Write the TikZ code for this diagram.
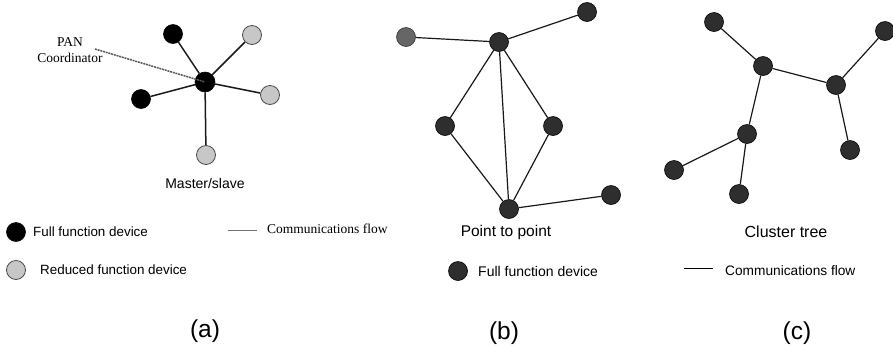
\documentclass[tikz,border=0pt]{standalone}
\usepackage{fontspec}
\setmainfont{Liberation Sans}
\newfontfamily\serifface{Liberation Serif}
\begin{document}
\begin{tikzpicture}[x=1pt,y=-1pt,
  ffd/.style={circle,fill=black,draw=black,line width=0.6,minimum size=19,inner sep=0},
  rfd/.style={circle,fill=black!22,draw=black!70,line width=0.8,minimum size=19,inner sep=0},
  pfd/.style={circle,fill=black!82,draw=black,line width=0.6,minimum size=19,inner sep=0},
  lfd/.style={circle,fill=black!60,draw=black!80,line width=0.6,minimum size=19,inner sep=0},
  link/.style={line width=1.5,black!90},
  tlink/.style={line width=1.2,black!90},
  lbl/.style={inner sep=0,font=\fontsize{13.4}{15}\selectfont},
  subcap/.style={inner sep=0,font=\fontsize{24.5}{27}\selectfont}]
\useasboundingbox (0,0) rectangle (893,357);

% ---- (a) star topology ----
\node[ffd,minimum size=20] (ac) at (205,82) {};
\node[ffd] (a1) at (173,34) {};
\node[rfd] (a2) at (252,35) {};
\node[rfd] (a3) at (270,95) {};
\node[ffd] (a4) at (141,99) {};
\node[rfd] (a5) at (206,155) {};
\foreach \n in {a1,a2,a3,a4,a5} \draw[link] (ac) -- (\n);

\node[inner sep=0,font=\serifface\fontsize{13.5}{15}\selectfont] (pan) at (70,42) {PAN};
\node[inner sep=0,font=\serifface\fontsize{13.5}{15}\selectfont] (coord) at (70,58) {Coordinator};
\coordinate (panend) at (95,49);
\draw[line width=1.5,black!65,dash pattern=on 2pt off 0.8pt] (panend) -- (ac.center);

\node[lbl,font=\fontsize{14}{16}\selectfont] (ms) at (205,183) {Master/slave};

\node[ffd] (lga) at (16,232) {};
\node[lbl,anchor=west] (lgat) at (33,232) {Full function device};
\node[rfd] (lgb) at (16,270) {};
\node[lbl,anchor=west] (lgbt) at (40,270) {Reduced function device};
\coordinate (fla) at (228,230);
\coordinate (flb) at (257,230);
\draw[line width=0.9,black!55] (fla) -- (flb);
\node[inner sep=0,anchor=west,font=\serifface\fontsize{13.5}{15}\selectfont] (cfa) at (267,229) {Communications flow};

\node[subcap] (capa) at (205,331) {(a)};

% ---- (b) point to point ----
\node[pfd] (b0) at (499,42) {};
\node[lfd] (b1) at (406,37) {};
\node[pfd] (b2) at (587,12) {};
\node[pfd] (b3) at (445,126) {};
\node[pfd] (b4) at (553,126) {};
\node[pfd] (b5) at (509,209) {};
\node[pfd] (b6) at (611,195) {};
\foreach \a/\b in {b0/b1,b0/b2,b0/b3,b0/b4,b0/b5,b3/b5,b4/b5,b5/b6}
  \draw[tlink] (\a) -- (\b);

\node[lbl,font=\fontsize{15.5}{17}\selectfont] (ptp) at (506,232) {Point to point};
\node[pfd] (lgc) at (458,271) {};
\node[lbl,anchor=west,font=\fontsize{14}{16}\selectfont] (lgct) at (478,271) {Full function device};
\coordinate (flc) at (684,268);
\coordinate (fld) at (713,268);
\draw[line width=0.9] (flc) -- (fld);
\node[lbl,anchor=west,font=\fontsize{13.7}{16}\selectfont] (cfb) at (725,271) {Communications flow};

\node[subcap] (capb) at (504,333) {(b)};

% ---- (c) cluster tree ----
\node[pfd] (c1) at (714,22) {};
\node[pfd] (c2) at (763,66) {};
\node[pfd] (c3) at (836,85) {};
\node[pfd] (c4) at (885,31) {};
\node[pfd] (c5) at (850,150) {};
\node[pfd] (c6) at (747,134) {};
\node[pfd] (c7) at (674,170) {};
\node[pfd] (c8) at (739,194) {};
\foreach \a/\b in {c1/c2,c2/c3,c3/c4,c3/c5,c2/c6,c6/c7,c6/c8}
  \draw[tlink] (\a) -- (\b);

\node[lbl,font=\fontsize{16}{18}\selectfont] (ct) at (786,232) {Cluster tree};
\node[subcap] (capc) at (797,333) {(c)};
\end{tikzpicture}
\end{document}
